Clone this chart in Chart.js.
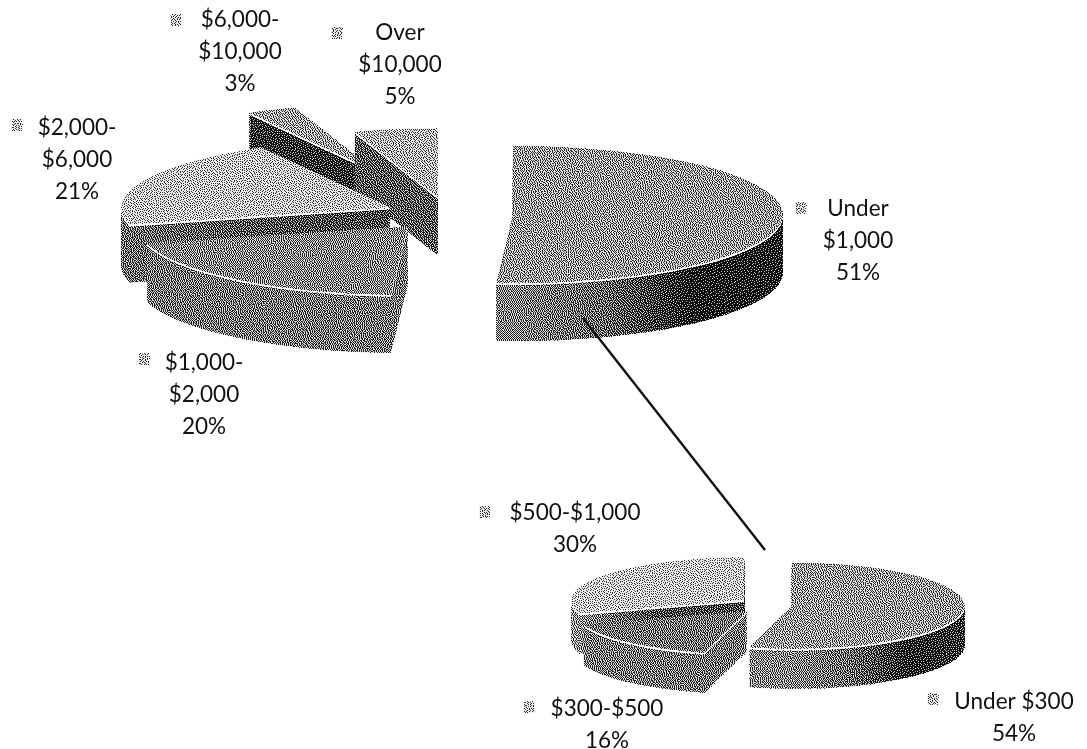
<!DOCTYPE html>
<html>
<head>
<meta charset="utf-8">
<script src="https://cdn.jsdelivr.net/npm/chart.js@4"></script>
<style>
  html, body { margin: 0; background: #fff; }
  canvas { position: absolute; left: 0; top: 0; }
  #lowerPie { mix-blend-mode: multiply; }
</style>
</head>
<body>
<canvas id="upperPie" width="1087" height="749"></canvas>
<canvas id="lowerPie" width="1087" height="749"></canvas>
<script>
const upperCategories = [["Under", "$1,000"], ["$1,000-", "$2,000"], ["$2,000-", "$6,000"], ["$6,000-", "$10,000"], ["Over", "$10,000"]];
const upperValues = [51, 20, 21, 3, 5];
const lowerCategories = [["Under $300"], ["$300-$500"], ["$500-$1,000"]];
const lowerValues = [54, 16, 30];

// styling per slice, same order as the values
const upperTops = ["#949494", "#848484", "#b8b8b8", "#9a9a9a", "#aaaaaa"];
const upperWalls = [
  ["#808080", "#808080", "#808080", "#808080", "#686868", "#262626", "#2c2c2c"],
  ["#767676", "#767676"],
  ["#707070", "#505050", "#4c4c4c", "#4c4c4c"],
  ["#383838", "#383838"],
  ["#5c5c5c", "#5c5c5c"]
];
const upperExplode = [65, 63, 62, 175, 67];
const upperLabelPos = [[858, 209], [204, 363], [77, 128], [240, 20], [400, 33]];
const upperKeyPos = [[801, 208], [144, 359], [17, 125], [176, 20], [337, 33]];

const lowerTops = ["#959595", "#757575", "#bcbcbc"];
const lowerWalls = [
  ["#858585", "#858585", "#858585", "#858585", "#6c6c6c", "#2e2e2e", "#3c3c3c"],
  ["#7a7a7a", "#707070"],
  ["#949494", "#4a4a4a", "#4a4a4a", "#4a4a4a", "#4a4a4a"]
];
const lowerExplode = [22, 33, 32];
const lowerLabelPos = [[1014, 702], [607, 709], [575, 513]];
const lowerKeyPos = [[933, 699], [529, 707], [485, 512]];

const LABEL_FONT = "22.5px Lato";
const LINE_GAP = 31.8;

// error diffusion so the fills get the grain of the scanned page
function ditherCanvas(ctx, w, h) {
  const img = ctx.getImageData(0, 0, w, h);
  const px = img.data;
  const gray = new Float32Array(w * h);
  for (let i = 0; i < w * h; i++) gray[i] = px[i * 4];
  for (let y = 0; y < h; y++) {
    for (let x = 0; x < w; x++) {
      const i = y * w + x;
      const orig = px[i * 4];
      if (orig >= 252) continue;
      // wobble the threshold a bit, plain diffusion gives a too tidy checker
      const s = Math.sin(x * 12.9898 + y * 78.233) * 43758.5453;
      const bin = gray[i] < 128 + 70 * (s - Math.floor(s) - 0.5) ? 0 : 255;
      const err = gray[i] - bin;
      if (x + 1 < w) gray[i + 1] += err * 7 / 16;
      if (y + 1 < h) {
        if (x > 0) gray[i + w - 1] += err * 3 / 16;
        gray[i + w] += err * 5 / 16;
        if (x + 1 < w) gray[i + w + 1] += err / 16;
      }
      const out = bin * 0.72 + orig * 0.28;
      px[i * 4] = px[i * 4 + 1] = px[i * 4 + 2] = out;
    }
  }
  ctx.putImageData(img, 0, 0);
}

const tiltedPie = {
  id: "tiltedPie",
  beforeDraw(chart) {
    const ctx = chart.ctx;
    ctx.save();
    ctx.fillStyle = "#fff";
    ctx.fillRect(0, 0, chart.width, chart.height);
    ctx.restore();
  },
  beforeDatasetsDraw(chart, args, opts) {
    const ctx = chart.ctx;
    const arcs = chart.getDatasetMeta(0).data;
    const R = opts.radius;

    function drawArc(arc, dy) {
      const mid = (arc.startAngle + arc.endAngle) / 2;
      const shift = opts.explode[arc.$index];
      ctx.save();
      ctx.translate(opts.centerX, opts.centerY + dy);
      ctx.scale(1, opts.tilt);
      ctx.translate(Math.cos(mid) * shift - arc.x, Math.sin(mid) * shift - arc.y);
      arc.draw(ctx);
      ctx.restore();
    }

    function withColor(arc, color, fn) {
      const saved = arc.options;
      arc.options = Object.create(saved);
      arc.options.backgroundColor = color;
      arc.options.borderColor = color;
      arc.options.borderWidth = 0;
      arc.options.offset = 0;
      fn();
      arc.options = saved;
    }

    arcs.forEach((arc, i) => { arc.$index = i; });

    // back to front, by where the tip of each exploded slice lands
    const order = arcs.slice().sort((a, b) => {
      const ya = Math.sin((a.startAngle + a.endAngle) / 2) * opts.explode[a.$index];
      const yb = Math.sin((b.startAngle + b.endAngle) / 2) * opts.explode[b.$index];
      return ya - yb;
    });

    order.forEach(arc => {
      const stops = opts.walls[arc.$index];
      const grad = ctx.createLinearGradient(arc.x - R, 0, arc.x + R, 0);
      stops.forEach((c, n) => grad.addColorStop(n / (stops.length - 1), c));
      withColor(arc, grad, () => {
        for (let d = opts.depth; d >= 1; d--) drawArc(arc, d);
      });
      // thin light rim along the front edge
      withColor(arc, "#ffffff", () => drawArc(arc, 1.6));
      withColor(arc, opts.tops[arc.$index], () => drawArc(arc, 0));
    });

    // legend keys get dithered along with the slices
    opts.keyPos.forEach(p => {
      ctx.fillStyle = "#b0b0b0";
      ctx.fillRect(p[0] - 5.5, p[1] - 6, 11, 12);
    });

    ditherCanvas(ctx, chart.width, chart.height);

    ctx.save();
    ctx.font = LABEL_FONT;
    ctx.fillStyle = "#111";
    ctx.textAlign = "center";
    ctx.textBaseline = "middle";
    chart.data.labels.forEach((lines, i) => {
      const rows = lines.concat(chart.data.datasets[0].data[i] + "%");
      rows.forEach((row, n) => {
        ctx.fillText(row, opts.labelPos[i][0], opts.labelPos[i][1] + n * LINE_GAP);
      });
    });
    if (opts.leader) {
      ctx.strokeStyle = "#111";
      ctx.lineWidth = 2.4;
      ctx.beginPath();
      ctx.moveTo(opts.leader[0], opts.leader[1]);
      ctx.lineTo(opts.leader[2], opts.leader[3]);
      ctx.stroke();
    }
    ctx.restore();
    return false;
  }
};

function makePie(id, labels, values, pieOpts) {
  return new Chart(document.getElementById(id), {
    type: "pie",
    data: {
      labels: labels,
      datasets: [{ data: values, backgroundColor: pieOpts.tops, borderWidth: 0 }]
    },
    options: {
      responsive: false,
      animation: false,
      radius: pieOpts.radius,
      plugins: {
        legend: { display: false },
        tooltip: { enabled: false },
        tiltedPie: pieOpts
      }
    },
    plugins: [tiltedPie]
  });
}

makePie("upperPie", upperCategories, upperValues, {
  centerX: 448, centerY: 214, radius: 270, tilt: 0.255, depth: 58,
  tops: upperTops, walls: upperWalls, explode: upperExplode,
  labelPos: upperLabelPos, keyPos: upperKeyPos,
  leader: [583, 318, 765, 550]
});

makePie("lowerPie", lowerCategories, lowerValues, {
  centerX: 770, centerY: 605, radius: 173, tilt: 0.25, depth: 40,
  tops: lowerTops, walls: lowerWalls, explode: lowerExplode,
  labelPos: lowerLabelPos, keyPos: lowerKeyPos
});
</script>
</body>
</html>
